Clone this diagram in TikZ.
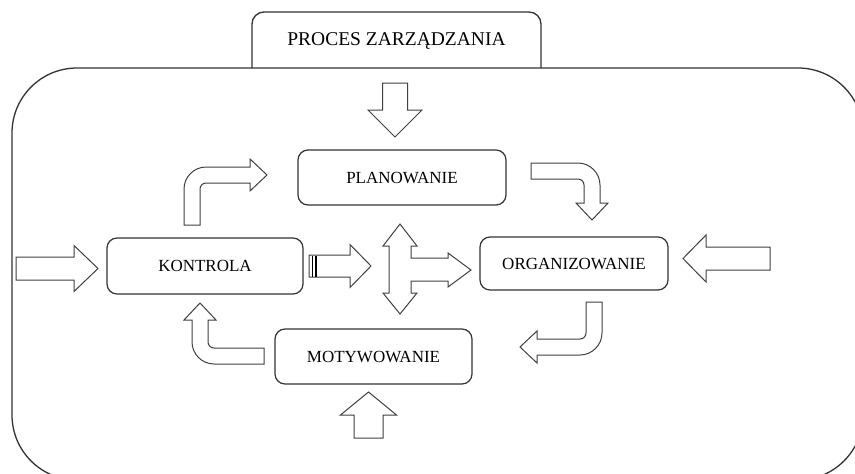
\documentclass[tikz,border=0pt]{standalone}
\usepackage{fontspec}
\setmainfont{Liberation Serif}
\tikzset{
  stage/.style={
    draw=black!80, line width=1.2pt, rounded corners=10pt,
    inner sep=0pt, align=center,
    font=\fontsize{17}{20}\selectfont,
  },
  frameline/.style={draw=black!80, line width=1.3pt},
  blockline/.style={draw=black!75, line width=1pt, line join=miter, fill=white},
}
% straight block arrow: tail, direction, length, head length, shaft half, head half
\newcommand{\blockarrow}[6]{%
\begin{scope}[shift={#1},rotate=#2]
  \draw[blockline] (0,-#5) -- ({#3-#4},-#5) -- ({#3-#4},-#6) -- (#3,0)
    -- ({#3-#4},#6) -- ({#3-#4},#5) -- (0,#5) -- cycle;
\end{scope}}
% bent block arrow: outer corner, rotation, tail leg, head leg
\newcommand{\bentarrow}[4]{%
\begin{scope}[shift={#1},rotate=#2]
  \draw[blockline] (0,#3) -- (0,22) .. controls (0,10) and (10,0) .. (22,0)
    -- ({#4-17},0) -- ({#4-17},-8) -- (#4,8) -- ({#4-17},24) -- ({#4-17},16)
    -- (22,16) .. controls (18.7,16) and (16,18.7) .. (16,22) -- (16,#3) -- cycle;
\end{scope}}

\begin{document}
\begin{tikzpicture}[x=1pt,y=-1pt]
  \useasboundingbox (0,0) rectangle (855,474);
  \clip (0,0) rectangle (855,474);

  % outer frame and title tab
  \draw[frameline, rounded corners=65pt] (12,68) rectangle (863,480);
  \draw[frameline, rounded corners=12pt] (252,68) -- (252,12) -- (541,12) -- (541,68);
  \node[font=\fontsize{19.5}{22}\selectfont] (title) at (396.5,41) {PROCES ZARZĄDZANIA};

  % stages
  \node[stage, minimum width=208, minimum height=55] (plan) at (402,177.5) {PLANOWANIE};
  \node[stage, minimum width=196, minimum height=56] (kontrola) at (205,266) {KONTROLA};
  \node[stage, minimum width=188, minimum height=53] (org) at (574,263.5) {ORGANIZOWANIE};
  \node[stage, minimum width=197, minimum height=55] (motyw) at (373.5,356.5) {MOTYWOWANIE};

  % inputs from outside
  \blockarrow{(395,83)}{-90}{54}{27}{12.5}{27}
  \blockarrow{(16,268.5)}{0}{82}{24}{11.5}{23}
  \blockarrow{(770,258.5)}{180}{87}{23}{11.5}{23.5}
  \blockarrow{(368.5,438)}{90}{46}{23}{14.5}{28}

  % cycle
  \bentarrow{(184,167)}{0}{58}{83}
  \bentarrow{(600,163)}{-90}{69}{57}
  \bentarrow{(602,355)}{180}{53}{82}
  \bentarrow{(192,364)}{90}{72}{61}

  % kontrola feedback
  \blockarrow{(309,266)}{0}{62}{21}{11}{21.5}
  \draw[black, line width=1.2pt] (312.5,255.5) -- (312.5,276.5);
  \draw[black, line width=2.4pt] (316,255.5) -- (316,276.5);

  % cross arrow
  \draw[blockline] (400,224) -- (417,246) -- (411,246) -- (411,258) -- (448,258)
    -- (448,253) -- (471,270) -- (448,287) -- (448,281) -- (411,281) -- (411,293)
    -- (417,293) -- (400,314) -- (383,293) -- (389,293) -- (389,246) -- (383,246) -- cycle;
\end{tikzpicture}
\end{document}
